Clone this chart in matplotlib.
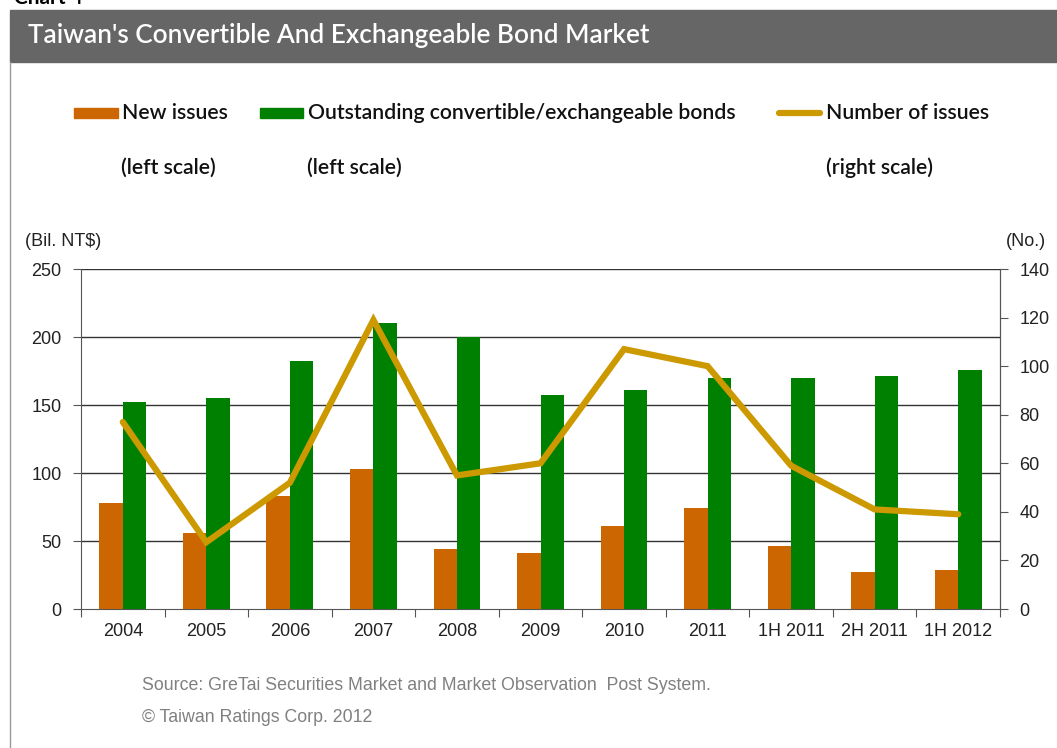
import numpy as np
import matplotlib
matplotlib.use('Agg')
import matplotlib.pyplot as plt
from matplotlib.patches import Rectangle
from matplotlib.lines import Line2D

periods = ['2004', '2005', '2006', '2007', '2008', '2009', '2010', '2011',
           '1H 2011', '2H 2011', '1H 2012']
new_issues = [78, 56, 83, 103, 44, 41, 61, 74, 46, 27, 28.5]
outstanding = [152.5, 155, 182, 210, 200, 157, 161, 170, 170, 171, 176]
num_issues = [77, 27.5, 52, 119, 55, 60, 107, 100, 59, 41, 39]

c_new = '#CC6600'
c_out = '#008000'
c_num = '#CC9900'
axis_font = 'Liberation Sans'
leg_font = 'Lato'

W, H = 1057, 748
fig = plt.figure(figsize=(W / 100, H / 100), dpi=100)

def fx(px):
    return px / W

def fy(py):
    return 1 - py / H

# header bar and frame
fig.patches.append(Rectangle((fx(10), fy(62)), 1 - fx(10), fy(10) - fy(62),
                             transform=fig.transFigure, color='#666666', zorder=0))
fig.lines.append(Line2D([fx(10), fx(10)], [fy(62), 0], transform=fig.transFigure,
                        color='#999999', lw=1))
fig.text(fx(28), fy(36), "Taiwan's Convertible And Exchangeable Bond Market",
         color='white', fontsize=18.8, fontfamily=leg_font, fontweight='semibold', va='center')
fig.text(fx(14), fy(4), 'Chart 4', color='black', fontsize=15, fontfamily=leg_font,
         fontweight='bold', va='baseline')

ax = fig.add_axes([fx(81), fy(609), fx(1000) - fx(81), fy(269) - fy(609)])
x = np.arange(len(periods))
bw = 0.28
ax.bar(x - bw / 2, new_issues, bw, color=c_new, zorder=3)
ax.bar(x + bw / 2, outstanding, bw, color=c_out, zorder=3)
ax.set_xlim(-0.5, len(periods) - 0.5)
ax.set_ylim(0, 250)
ax.set_yticks(range(0, 251, 50))
for v in range(50, 251, 50):
    ax.axhline(v, color='#333333', lw=1, zorder=1)
ax.set_xticks(np.arange(-0.5, len(periods), 1.0))
ax.set_xticklabels([])
ax.set_xticks(x, minor=True)
ax.set_xticklabels(periods, minor=True)
ax.tick_params(axis='x', which='minor', length=0, pad=10)
ax.tick_params(axis='x', which='major', length=6, color='#555555', direction='out')
ax.tick_params(axis='y', length=6, color='#555555', direction='out', pad=8)
for lab in ax.get_xticklabels(minor=True) + ax.get_yticklabels():
    lab.set_fontfamily(axis_font)
    lab.set_fontsize(13)
    lab.set_color('#222222')
ax.spines['top'].set_visible(False)
for s in ['left', 'bottom', 'right']:
    ax.spines[s].set_color('#555555')

ax2 = ax.twinx()
ax2.plot(x, num_issues, color=c_num, lw=4.5, solid_capstyle='round',
         solid_joinstyle='miter', zorder=4)
ax2.set_ylim(0, 140)
ax2.set_yticks(range(0, 141, 20))
ax2.tick_params(axis='y', length=6, color='#555555', direction='out', pad=8)
for lab in ax2.get_yticklabels():
    lab.set_fontfamily(axis_font)
    lab.set_fontsize(13)
    lab.set_color('#222222')
ax2.spines['top'].set_visible(False)
ax2.spines['right'].set_color('#555555')
ax2.spines['left'].set_visible(False)
ax2.spines['bottom'].set_visible(False)

fig.text(fx(25), fy(241), '(Bil. NT$)', fontfamily=axis_font, fontsize=13,
         color='#222222', va='center')
fig.text(fx(1046), fy(241), '(No.)', fontfamily=axis_font, fontsize=13,
         color='#222222', va='center', ha='right')

# legend
fig.patches.append(Rectangle((fx(74), fy(118)), fx(118) - fx(74), fy(108) - fy(118),
                             transform=fig.transFigure, color=c_new))
fig.patches.append(Rectangle((fx(260), fy(118)), fx(303) - fx(260), fy(108) - fy(118),
                             transform=fig.transFigure, color=c_out))
fig.lines.append(Line2D([fx(779), fx(820)], [fy(113), fy(113)], transform=fig.transFigure,
                        color=c_num, lw=4.5, solid_capstyle='round'))
for px, txt in [(122, 'New issues'), (308, 'Outstanding convertible/exchangeable bonds'),
                (826, 'Number of issues')]:
    fig.text(fx(px), fy(113), txt, fontfamily=leg_font, fontsize=15.3,
             fontweight='semibold', va='center', color='#111111')
for px, txt in [(121, '(left scale)'), (307, '(left scale)'), (826, '(right scale)')]:
    fig.text(fx(px), fy(168), txt, fontfamily=leg_font, fontsize=15.3,
             fontweight='semibold', va='center', color='#111111')

# footer
fig.text(fx(142), fy(685), 'Source: GreTai Securities Market and Market Observation  Post System.',
         fontfamily=axis_font, fontsize=12.8, color='#808080', va='center')
fig.text(fx(142), fy(718), '\u00a9 Taiwan Ratings Corp. 2012',
         fontfamily=axis_font, fontsize=12.8, color='#808080', va='center')

fig.savefig('out.png', dpi=100)
